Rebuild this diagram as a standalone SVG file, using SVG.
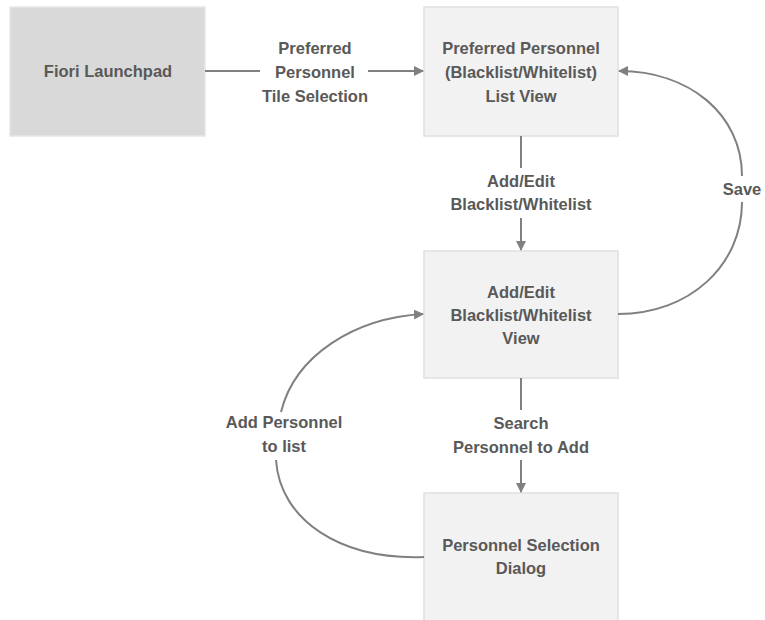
<svg xmlns="http://www.w3.org/2000/svg" width="765" height="620" viewBox="0 0 765 620">
<defs>
<marker id="ah" markerWidth="10" markerHeight="10" refX="9" refY="5" orient="auto" markerUnits="userSpaceOnUse">
<path d="M0,0 L10,5 L0,10 z" fill="#808080"/>
</marker>
<style>
.t{font-family:"Liberation Sans",Arial,sans-serif;font-weight:bold;font-size:16.5px;fill:#595959;text-anchor:middle}
.box{fill:#f2f2f2;stroke:#e0e0e0;stroke-width:1.5}
.c{fill:none;stroke:#808080;stroke-width:2}
</style>
</defs>
<rect width="765" height="620" fill="#ffffff"/>
<g id="fiori">
<rect x="10" y="7" width="195" height="129" fill="#d9d9d9" stroke="#e6e6e6" stroke-width="1.5"/>
<text class="t" x="108" y="77">Fiori Launchpad</text>
</g>
<g id="listview">
<rect class="box" x="424" y="7" width="194" height="129"/>
<text class="t" x="521" y="54">Preferred Personnel</text>
<text class="t" x="521" y="78">(Blacklist/Whitelist)</text>
<text class="t" x="521" y="102">List View</text>
</g>
<g id="editview">
<rect class="box" x="424" y="251" width="194" height="127"/>
<text class="t" x="521" y="298">Add/Edit</text>
<text class="t" x="521" y="321">Blacklist/Whitelist</text>
<text class="t" x="521" y="344">View</text>
</g>
<g id="dialog">
<rect class="box" x="424" y="493" width="194" height="135"/>
<text class="t" x="521" y="551">Personnel Selection</text>
<text class="t" x="521" y="574">Dialog</text>
</g>
<g id="connectors">
<path class="c" d="M205,71 H260"/>
<path class="c" d="M368,71 H423" marker-end="url(#ah)"/>
<text class="t" x="315" y="54">Preferred</text>
<text class="t" x="315" y="78">Personnel</text>
<text class="t" x="315" y="102">Tile Selection</text>

<path class="c" d="M521,136 V168"/>
<path class="c" d="M521,218 V250" marker-end="url(#ah)"/>
<text class="t" x="521" y="187">Add/Edit</text>
<text class="t" x="521" y="210">Blacklist/Whitelist</text>

<path class="c" d="M618,314 C690,314 742,265 742,202"/>
<path class="c" d="M742,176 C742,115 690,71 619,71" marker-end="url(#ah)"/>
<text class="t" x="742" y="195">Save</text>

<path class="c" d="M521,378 V410"/>
<path class="c" d="M521,460 V492" marker-end="url(#ah)"/>
<text class="t" x="521" y="429">Search</text>
<text class="t" x="521" y="453">Personnel to Add</text>

<path class="c" d="M424,557 C340,560 280,520 276,460"/>
<path class="c" d="M281,412 C295,355 355,318 423,314" marker-end="url(#ah)"/>
<text class="t" x="284" y="428">Add Personnel</text>
<text class="t" x="284" y="452">to list</text>
</g>
</svg>
